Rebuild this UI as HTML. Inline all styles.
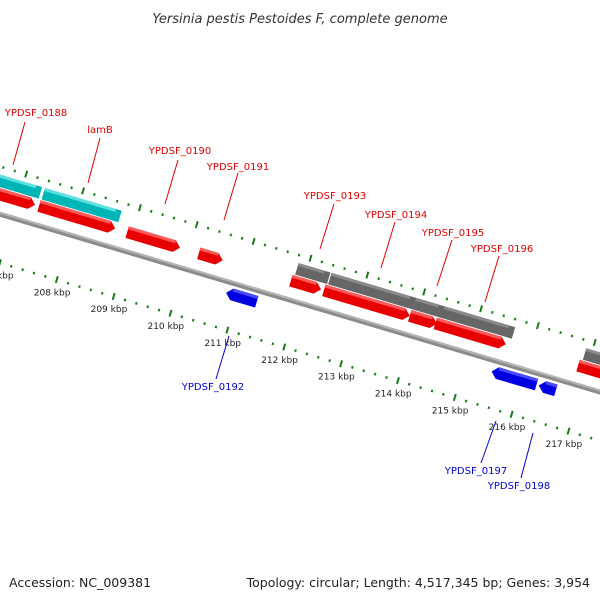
<!DOCTYPE html>
<html><head><meta charset="utf-8"><style>
html,body{margin:0;padding:0;background:#fff;width:600px;height:600px;overflow:hidden}
svg{display:block;font-family:"DejaVu Sans","Liberation Sans",sans-serif}
</style></head><body>
<svg id="map" width="600" height="600" viewBox="0 0 600 600" xmlns="http://www.w3.org/2000/svg">
<text x="300" y="23" text-anchor="middle" font-size="13" font-style="italic" fill="#333">Yersinia pestis Pestoides F, complete genome</text>
<g id="rot" transform="translate(70,235) rotate(16.5)"></g>
<g id="labels"></g>
<text x="9" y="587" font-size="12.5" fill="#222">Accession: NC_009381</text>
<text x="590" y="587" text-anchor="end" font-size="12.5" fill="#222">Topology: circular; Length: 4,517,345 bp; Genes: 3,954</text>
</svg>
<script>
// data (kbp)
const fwdStarts = [206.0, 207.36, 208.91, 210.17, 211.79, 212.37, 213.88, 214.33, 216.84];
const fwdEnds   = [207.29, 208.70, 209.84, 210.59, 212.32, 213.88, 214.36, 215.57, 218.5];
const revStarts = [210.80, 215.47, 216.30];
const revEnds   = [211.34, 216.26, 216.60];
const cyanStarts = [206.0, 207.37];
const cyanEnds   = [207.32, 208.72];
const grayStarts = [211.83, 212.41, 213.90, 214.39, 216.89];
const grayEnds   = [212.39, 213.90, 214.40, 215.64, 218.5];
const tickKbp = [205,206,207,208,209,210,211,212,213,214,215,216,217,218,219];
const labelNames = ["YPDSF_0188","lamB","YPDSF_0190","YPDSF_0191","YPDSF_0193","YPDSF_0194","YPDSF_0195","YPDSF_0196","YPDSF_0192","YPDSF_0197","YPDSF_0198"];
const labelColors = ["red","red","red","red","red","red","red","red","blue","blue","blue"];
const labelX = [36,100,180,238,335,396,453,502,213,476,519];
const labelY = [116,133,154,170,199,218,236,252,390,474,489];
const lineX1 = [13,88,165,224,320,381,437,485,229,496,533];
const lineY1 = [165,183,204,220,249,268,286,302,336,421,433];
const lineX2 = [25,100,178,238,334,395,452,499,216,481,521];
const lineY2 = [122,138,160,173,204,222,240,256,379,463,478];

const NS="http://www.w3.org/2000/svg";
const K0=208, S=59.3, ANG=16.5;
const U = k => (k-K0)*S;
const g=document.getElementById('rot');
function mk(tag,attrs,parent){const e=document.createElementNS(NS,tag);for(const a in attrs)e.setAttribute(a,attrs[a]);(parent||g).appendChild(e);return e;}

let bb=mk('rect',{x:-400,y:-2.5,width:1200,height:5,fill:'#8c8c8c'});


let bb2=mk('rect',{x:-400,y:-2.5,width:1200,height:2,fill:'#b5b5b5'});



function gene(s,e,v,dir,fill,light,name){
  const a=U(s), b=U(e), h=6, ah=Math.min(6,(b-a)/2);
  let d;
  if(dir>0) d=`M${a},${v-h}L${b-ah},${v-h}L${b},${v}L${b-ah},${v+h}L${a},${v+h}Z`;
  else if(dir<0) d=`M${a+ah},${v-h}L${b},${v-h}L${b},${v+h}L${a+ah},${v+h}L${a},${v}Z`;
  else d=`M${a},${v-h}L${b},${v-h}L${b},${v+h}L${a},${v+h}Z`;
  const p=mk('path',{d:d,fill:fill});
  
  
  const hl=mk('rect',{x:a+(dir<0?ah:0),y:v-h,width:Math.max(0,b-a-ah),height:3,fill:light});
  
  
}
cyanStarts.forEach((s,i)=>gene(s,cyanEnds[i],-32,0,'#00b5b5','#5fe0e0','cyan-feature'));
grayStarts.forEach((s,i)=>gene(s,grayEnds[i],-32,0,'#666','#8a8a8a','gray-feature'));
fwdStarts.forEach((s,i)=>gene(s,fwdEnds[i],-19,1,'#e80000','#ff5a5a','forward-gene'));
revStarts.forEach((s,i)=>gene(s,revEnds[i],11,-1,'#0000e0','#4a4aff','reverse-gene'));

[-46,46.5].forEach((v,ri)=>{
  tickKbp.forEach(k=>{
    for(let j=0;j<5;j++){
      const x=U(k+j*0.2);
      if(j===0){
        const t=mk('rect',{x:x-1,y:v-3.5,width:2,height:7,fill:'#1a7a1a'});
        
        
      } else {
        const t=mk('rect',{x:x-1,y:v-1,width:2,height:2.5,fill:'#1a7a1a'});
        
        
      }
    }
    if(ri===1){
      const th=ANG*Math.PI/180, ux=U(k), vv=63;
      const px=70+ux*Math.cos(th)-vv*Math.sin(th), py=235+ux*Math.sin(th)+vv*Math.cos(th);
      const t=mk('text',{x:px,y:py,'font-size':9,'text-anchor':'middle',fill:'#222'},document.getElementById('map'));
      t.textContent=k+' kbp';
      
      
    }
  });
});

const L=document.getElementById('labels');
labelNames.forEach((n,i)=>{
  const c=labelColors[i]==='red'?'#e00000':'#0000d0';
  const ln=mk('line',{x1:lineX1[i],y1:lineY1[i],x2:lineX2[i],y2:lineY2[i],stroke:c,'stroke-width':1},L);
  
  
  const t=mk('text',{x:labelX[i],y:labelY[i],'text-anchor':'middle','font-size':10,fill:c},L);
  t.textContent=n;
  
  
});
</script>
</body></html>
